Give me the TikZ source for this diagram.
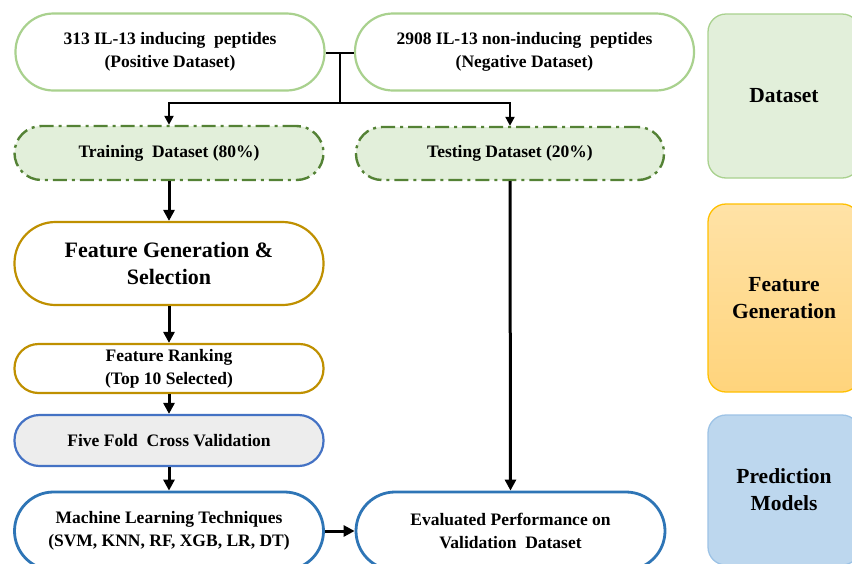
\documentclass[tikz,border=0pt]{standalone}
\usepackage{fontspec}
\setmainfont{Liberation Serif}
\usetikzlibrary{arrows.meta}
\definecolor{lgreen}{HTML}{A9D18E}
\definecolor{dgreen}{HTML}{548235}
\definecolor{pgreen}{HTML}{E2EFDA}
\definecolor{gold}{HTML}{BF9000}
\definecolor{mblue}{HTML}{4472C4}
\definecolor{sblue}{HTML}{2E75B6}
\definecolor{lgray}{HTML}{EDEDED}
\definecolor{pblue}{HTML}{BDD7EE}
\definecolor{pbluestroke}{HTML}{9DC3E6}
\definecolor{otop}{HTML}{FFE2A6}
\definecolor{obot}{HTML}{FFD47C}
\definecolor{ostroke}{HTML}{FFC000}
\begin{document}
\begin{tikzpicture}[x=1pt,y=-1pt,
  pill/.style={draw, rounded corners=#1, line width=2.2pt, align=center, inner sep=0pt, minimum width=309pt},
  txt/.style={font=\fontsize{17.5}{23}\selectfont\bfseries},
  big/.style={font=\fontsize{22}{27}\selectfont\bfseries},
  dd/.style={draw=dgreen, fill=pgreen, line width=2.4pt, dash pattern=on 14pt off 5pt on 3pt off 5pt},
  arr/.style={line width=3pt, -{Triangle[length=11pt,width=11pt]}},
  thinarr/.style={line width=2.2pt, -{Triangle[length=9pt,width=9pt]}},
  side/.style={rounded corners=18pt, line width=1.3pt, align=center, font=\fontsize{21.5}{27}\selectfont\bfseries, inner sep=0pt, minimum width=152pt}
]
\clip (0,0) rectangle (852,563);
\fill[white] (0,0) rectangle (852,563);

% right panels
\node[side, draw=lgreen, fill=pgreen, minimum height=164pt] (sdata) at (784,96) {Dataset};
\node[side, draw=ostroke, top color=otop, bottom color=obot, minimum height=188pt] (sfeat) at (784,298) {Feature\\Generation};
\node[side, draw=pbluestroke, fill=pblue, minimum height=150pt] (spred) at (784,490) {Prediction\\Models};

% top dataset nodes
\node[pill=38pt, draw=lgreen, minimum height=77pt, txt] (pos) at (170,52) {313 IL-13 inducing\ \ peptides\\(Positive Dataset)};
\node[pill=38pt, draw=lgreen, minimum height=77pt, minimum width=339pt, txt] (neg) at (524.5,52) {2908 IL-13 non-inducing\ \ peptides\\(Negative Dataset)};

% split
\node[pill=27pt, dd, minimum height=54pt, txt] (train) at (169,153) {Training\ \ Dataset (80\%)};
\node[pill=26pt, dd, minimum height=53pt, minimum width=308pt, txt] (test) at (510,153.5) {Testing Dataset (20\%)};

% left chain
\node[pill=41pt, draw=gold, minimum height=83pt, big] (fg) at (169,263.5) {Feature Generation \&\\Selection};
\node[pill=24pt, draw=gold, minimum height=49pt, txt] (rank) at (169,368.5) {Feature Ranking\\(Top 10 Selected)};
\node[pill=25pt, draw=mblue, fill=lgray, minimum height=51pt, txt] (cv) at (169,440.5) {Five Fold\ \ Cross Validation};
\node[pill=39pt, draw=sblue, line width=2.8pt, minimum height=78pt, txt] (ml) at (169,531) {Machine Learning Techniques\\(SVM, KNN, RF, XGB, LR, DT)};
\node[pill=39pt, draw=sblue, line width=2.8pt, minimum height=78pt, txt] (eval) at (510.5,531) {Evaluated Performance on\\Validation\ \ Dataset};

% connectors
\coordinate (j) at (340,53);
\coordinate (jb) at (340,103);
\draw[line width=2.2pt] (pos.east |- j) -- (neg.west |- j);
\draw[line width=2.2pt] (j) -- (jb);
\draw[thinarr] (jb) -| (train.north);
\draw[thinarr] (jb) -| (test.north);
\draw[arr] (train.south) -- (fg.north);
\draw[arr] (fg.south) -- (rank.north);
\draw[arr] (rank.south) -- (cv.north);
\draw[arr] (cv.south) -- (ml.north);
\draw[arr] (ml.east) -- (eval.west);
\draw[arr] (test.south) -- (eval.north);
\end{tikzpicture}
\end{document}
